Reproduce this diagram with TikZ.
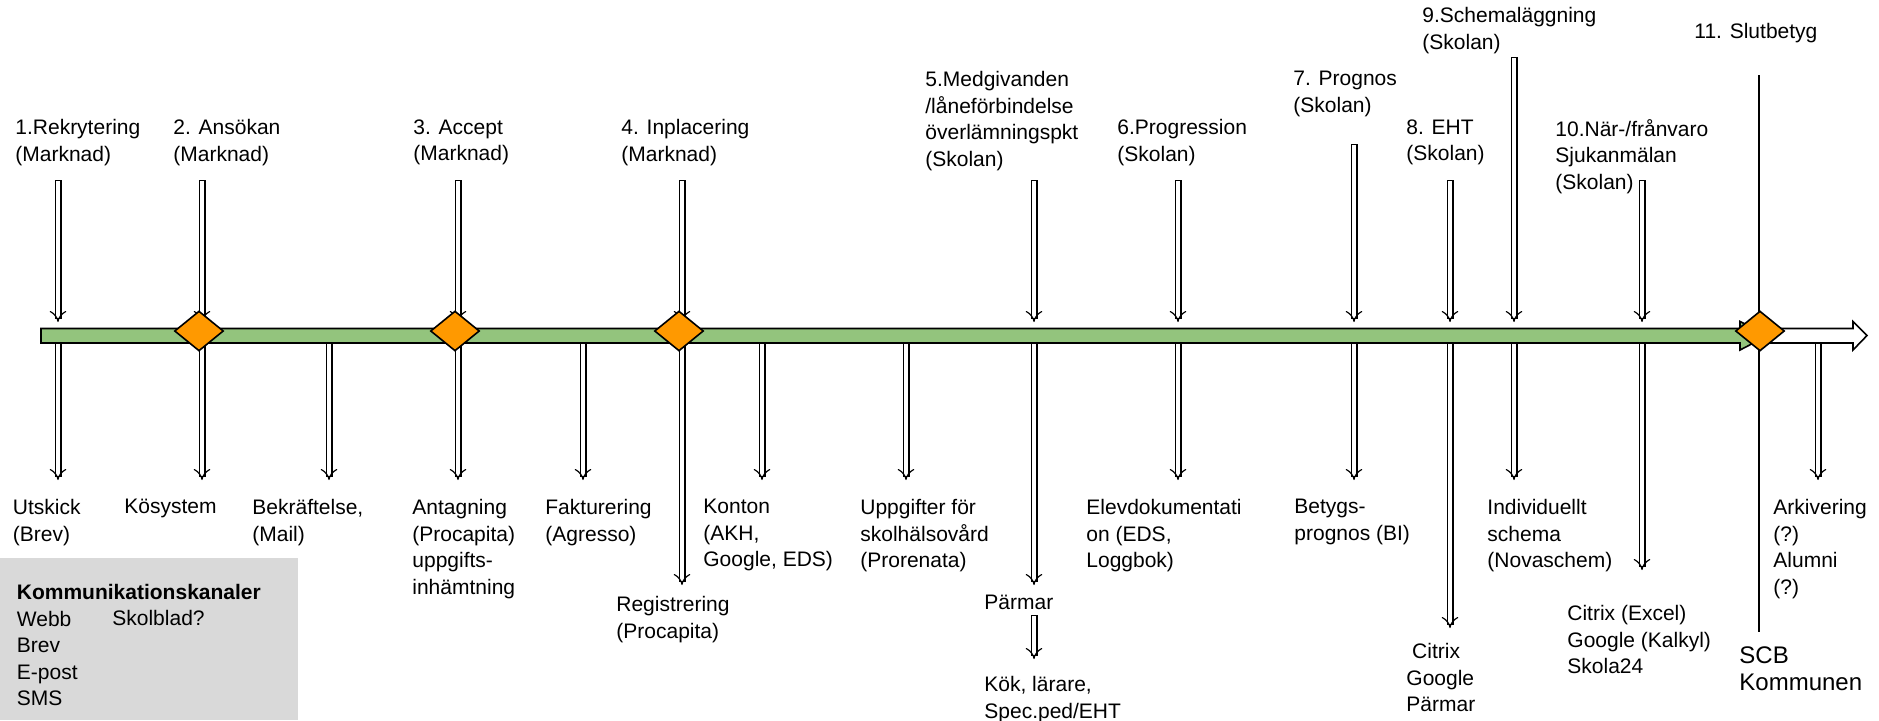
\documentclass[tikz,border=0pt]{standalone}
\usepackage{fontspec}
\setmainfont{Liberation Sans}
\usetikzlibrary{arrows.meta,shapes.geometric}
\definecolor{tidsgron}{RGB}{147,196,125}
\definecolor{tidsorange}{RGB}{255,153,0}
\definecolor{rutgra}{RGB}{217,217,217}
\tikzset{
  pil/.style={double=white, double distance=2.3pt, line width=0.6pt, line cap=rect, -{Implies[scale=1.2]}},
  etikett/.style={anchor=north west, inner sep=0pt, align=left, font=\fontsize{10.5}{13.25}\selectfont, execute at begin node=\strut},
  milstolpe/.style={diamond, draw, line width=0.8pt, fill=tidsorange, minimum width=24.5pt, minimum height=20pt, inner sep=0pt}
}
\newcommand{\pildraw}[4]{\coordinate (#1a) at (#2,#3); \coordinate (#1b) at (#2,#4); \draw[pil] (#1a) -- (#1b)}

\begin{document}
\begin{tikzpicture}[x=0.5pt, y=-0.5pt]
    \useasboundingbox (0,0) rectangle (1879,720);
    \fill[rutgra] (0,558) rectangle (298,720);

    \node[etikett] (r1) at (15,119) {1.Rekrytering\\(Marknad)};
    \node[etikett] (r2) at (173,119) {2. Ansökan\\(Marknad)};
    \node[etikett] (r3) at (413,119) {3. Accept\\(Marknad)};
    \node[etikett] (r4) at (621,119) {4. Inplacering\\(Marknad)};
    \node[etikett] (r5) at (925,71) {5.Medgivanden\\/låneförbindelse\\överlämningspkt\\(Skolan)};
    \node[etikett] (r6) at (1117,119) {6.Progression\\(Skolan)};
    \node[etikett] (r7) at (1293,71) {7. Prognos\\(Skolan)};
    \node[etikett] (r8) at (1406,119) {8. EHT\\(Skolan)};
    \node[etikett] (r9) at (1422,7) {9.Schemaläggning\\(Skolan)};
    \node[etikett] (r10) at (1555,119) {10.När-/frånvaro\\Sjukanmälan\\(Skolan)};
    \node[etikett] (r11) at (1694,19.5) {11. Slutbetyg};

    \node[etikett] (u1) at (12.5,499) {Utskick\\(Brev)};
    \node[etikett] (u2) at (124,494.5) {Kösystem};
    \node[etikett] (u3) at (252,499) {Bekräftelse,\\(Mail)};
    \node[etikett] (u4) at (412,499) {Antagning\\(Procapita)\\uppgifts-\\inhämtning};
    \node[etikett] (u5) at (545,499) {Fakturering\\(Agresso)};
    \node[etikett] (u6) at (616,596) {Registrering\\(Procapita)};
    \node[etikett] (u7) at (703,499) {Konton\\(AKH,\\Google, EDS)};
    \node[etikett] (u8) at (860,499) {Uppgifter för\\skolhälsovård\\(Prorenata)};
    \node[etikett] (u9) at (984,590.5) {Pärmar};
    \node[etikett] (u9b) at (984,676) {Kök, lärare,\\Spec.ped/EHT};
    \node[etikett] (u10) at (1086,499) {Elevdokumentati\\on (EDS,\\Loggbok)};
    \node[etikett] (u11) at (1294,499) {Betygs-\\prognos (BI)};
    \node[etikett] (u12) at (1406,643) {\hspace*{2.9pt}Citrix\\Google\\Pärmar};
    \node[etikett] (u13) at (1487,499) {Individuellt\\schema\\(Novaschem)};
    \node[etikett] (u14) at (1567,605) {Citrix (Excel)\\Google (Kalkyl)\\Skola24};
    \node[etikett, font=\fontsize{12}{13.7}\selectfont] (u15) at (1739,646) {SCB\\Kommunen};
    \node[etikett] (u16) at (1773,499) {Arkivering\\(?)\\Alumni\\(?)};

    \node[etikett] (k1) at (16.5,584) {\textbf{Kommunikationskanaler}\\Webb\\Brev\\E-post\\SMS};
    \node[etikett] (k2) at (112,606.5) {Skolblad?};

    \pildraw{o1}{58}{183}{322};
    \pildraw{o2}{202}{183}{322};
    \pildraw{o3}{458}{183}{322};
    \pildraw{o4}{682}{183}{322};
    \pildraw{o5}{1034}{183}{322};
    \pildraw{o6}{1178}{183}{322};
    \pildraw{o7}{1354}{147}{322};
    \pildraw{o8}{1450}{183}{322};
    \pildraw{o9}{1514}{60}{322};
    \pildraw{o10}{1642}{183}{322};

    \pildraw{n1}{58}{343}{480};
    \pildraw{n2}{202}{343}{480};
    \pildraw{n3}{329}{343}{480};
    \pildraw{n4}{458}{343}{480};
    \pildraw{n5}{583}{343}{480};
    \pildraw{n6}{682}{343}{585};
    \pildraw{n7}{762}{343}{480};
    \pildraw{n8}{906}{343}{480};
    \pildraw{n9}{1034}{343}{585};
    \pildraw{n10}{1178}{343}{480};
    \pildraw{n11}{1354}{343}{480};
    \pildraw{n12}{1450}{343}{628};
    \pildraw{n13}{1514}{343}{480};
    \pildraw{n14}{1642}{343}{570};
    \pildraw{n15}{1818}{343}{480};
    \pildraw{n16}{1034}{618}{659};

    \coordinate (s1) at (1759,75);
    \coordinate (s2) at (1759,632);
    \draw[line width=0.7pt] (s1) -- (s2);

    \draw[line width=0.8pt, fill=tidsgron] (41,328.5) -- (1740,328.5) -- (1740,321.5) -- (1768,335.5) -- (1740,350) -- (1740,343) -- (41,343) -- cycle;
    \draw[line width=0.8pt, fill=white] (1765,328.5) -- (1853,328.5) -- (1853,321.5) -- (1867,335.5) -- (1853,350) -- (1853,343) -- (1765,343) -- cycle;

    \node[milstolpe] (m2) at (199,331) {};
    \node[milstolpe] (m3) at (455,331) {};
    \node[milstolpe] (m4) at (679,331) {};
    \node[milstolpe] (m11) at (1760,331) {};
\end{tikzpicture}
\end{document}
